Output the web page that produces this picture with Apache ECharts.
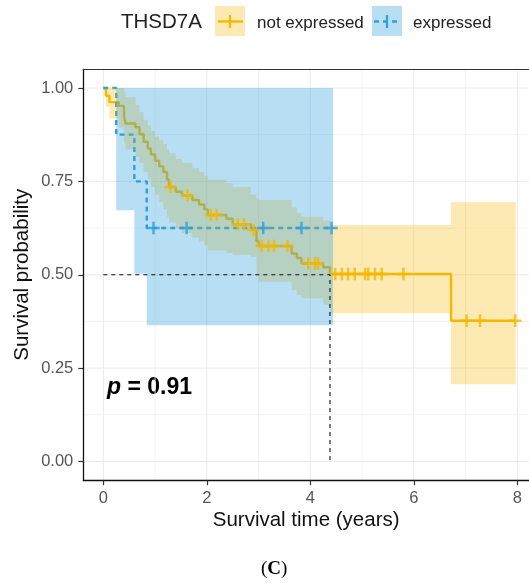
<!DOCTYPE html>
<html><head><meta charset="utf-8">
<script src="https://cdn.jsdelivr.net/npm/echarts@6/dist/echarts.min.js"></script>
<style>html,body{margin:0;padding:0;background:#fff}#c{width:529px;height:583px}</style>
</head><body><div id="c"></div>
<script>
// ---- tick values ----
const xTicks = [0, 2, 4, 6, 8];
const xMinor = [1, 3, 5, 7];
const yTicks = [0, 0.25, 0.5, 0.75, 1];
const yMinor = [0.125, 0.375, 0.625, 0.875];

// ---- group: not expressed (step points, last = end of follow-up) ----
const neTime  = [0,0.05,0.12,0.30,0.40,0.43,0.62,0.70,0.78,0.86,0.92,1.00,1.08,1.16,1.23,1.27,1.40,1.52,1.72,1.85,1.95,2.02,2.38,2.50,2.85,2.96,3.00,3.64,3.74,3.83,4.25,4.38,6.72,7.97];
const neSurv  = [1,0.979,0.962,0.952,0.925,0.905,0.895,0.876,0.856,0.838,0.822,0.805,0.790,0.775,0.755,0.735,0.722,0.712,0.700,0.688,0.675,0.660,0.650,0.635,0.620,0.590,0.577,0.557,0.545,0.530,0.520,0.502,0.377,0.377];
const neLower = [1,0.950,0.918,0.895,0.852,0.835,0.815,0.800,0.775,0.755,0.735,0.715,0.695,0.675,0.655,0.640,0.625,0.612,0.600,0.590,0.578,0.565,0.558,0.553,0.548,0.500,0.481,0.459,0.446,0.437,0.420,0.397,0.207,0.207];
const neUpper = [1,1,1,1,0.990,0.975,0.955,0.935,0.915,0.900,0.885,0.870,0.860,0.850,0.835,0.825,0.810,0.800,0.785,0.775,0.765,0.755,0.745,0.735,0.715,0.705,0.700,0.680,0.665,0.655,0.645,0.633,0.694,0.694];
const neCensor = [1.30,1.63,2.08,2.19,2.60,2.72,2.90,3.06,3.19,3.30,3.56,3.96,4.09,4.15,4.48,4.61,4.73,4.86,5.06,5.12,5.25,5.38,5.80,7.02,7.28,7.96];

// ---- group: expressed ----
const exTime  = [0,0.25,0.60,0.84,4.44];
const exSurv  = [1,0.875,0.75,0.625,0.625];
const exLower = [1,0.673,0.503,0.365,0.365];
const exUpper = [1,1,1,1,1];
const exCensor = [0.97,1.61,3.09,3.83,4.41];

const medianTime = 4.38, medianSurv = 0.5;
const pValue = '0.91';

const ORANGE = '#F4B800', BLUE = '#2E9FDF';
const ORANGE_FILL = 'rgba(244,184,0,0.30)', BLUE_FILL = 'rgba(46,159,223,0.34)';
const X_MIN = -0.3865, X_MAX = 8.226, Y_MIN = -0.05, Y_MAX = 1.05;

function stepAt(times, surv, t){
  let v = surv[0];
  for (let i = 0; i < times.length; i++) { if (times[i] <= t) v = surv[i]; }
  return v;
}
const plusPath = 'path://M4,0h2v4h4v2h-4v4h-2v-4h-4v-2h4z';

function bandRender(times, lo, hi, fill){
  return function(params, api){
    if (params.dataIndex !== 0) return null;
    const pts = [];
    for (let i = 0; i < times.length - 1; i++) {
      pts.push(api.coord([times[i], hi[i]]));
      pts.push(api.coord([times[i+1], hi[i]]));
    }
    for (let i = times.length - 2; i >= 0; i--) {
      pts.push(api.coord([times[i+1], lo[i]]));
      pts.push(api.coord([times[i], lo[i]]));
    }
    return {type:'polygon', shape:{points:pts}, style:{fill:fill, stroke:null}};
  };
}
function gridRender(dir, width, color){
  return function(params, api){
    const v = api.value(0);
    const a = dir === 'x' ? api.coord([v, Y_MIN]) : api.coord([X_MIN, v]);
    const b = dir === 'x' ? api.coord([v, Y_MAX]) : api.coord([X_MAX, v]);
    return {type:'line', shape:{x1:a[0], y1:a[1], x2:b[0], y2:b[1]}, style:{stroke:color, lineWidth:width}};
  };
}

const chart = echarts.init(document.getElementById('c'));
chart.setOption({
  animation: false,
  backgroundColor: '#fff',
  grid: {left: 83.3, top: 69.3, right: 0, height: 410.9, show: false},
  xAxis: [{
    type: 'value', min: X_MIN, max: X_MAX,
    name: 'Survival time (years)', nameLocation: 'middle', nameGap: 30, nameMoveOverlap: false,
    nameTextStyle: {fontFamily: 'Liberation Sans', fontSize: 20.5, color: '#111'},
    axisLine: {show: true, onZero: false, lineStyle: {color: '#111', width: 1.3}},
    axisTick: {show: true, length: 5, customValues: xTicks, lineStyle: {color: '#333', width: 1.2}},
    axisLabel: {customValues: xTicks, margin: 10, fontFamily: 'Liberation Sans', fontSize: 16.5, color: '#555', formatter: v => String(v)},
    splitLine: {show: false}
  }, {
    type: 'value', min: X_MIN, max: X_MAX, position: 'top',
    axisLine: {show: true, onZero: false, lineStyle: {color: '#333', width: 1}},
    axisTick: {show: false}, axisLabel: {show: false}, splitLine: {show: false}
  }],
  yAxis: {
    type: 'value', min: Y_MIN, max: Y_MAX,
    name: 'Survival probability', nameLocation: 'middle', nameGap: 50, nameRotate: 90, nameMoveOverlap: false,
    nameTextStyle: {fontFamily: 'Liberation Sans', fontSize: 20.5, color: '#111'},
    axisLine: {show: true, onZero: false, lineStyle: {color: '#111', width: 1.3}},
    axisTick: {show: true, length: 5, customValues: yTicks, lineStyle: {color: '#333', width: 1.2}},
    axisLabel: {customValues: yTicks, margin: 10, fontFamily: 'Liberation Sans', fontSize: 16.5, color: '#555', formatter: v => v.toFixed(2)},
    splitLine: {show: false}
  },
  series: [
    {type:'custom', z:0, silent:true, data: xTicks.map(v=>[v]), renderItem: gridRender('x', 1, '#EAEAEA'), encode:{x:0}},
    {type:'custom', z:0, silent:true, data: xMinor.map(v=>[v]), renderItem: gridRender('x', 0.8, '#EFEFEF'), encode:{x:0}},
    {type:'custom', z:0, silent:true, data: yTicks.map(v=>[v]), renderItem: gridRender('y', 1, '#EAEAEA'), encode:{y:0}},
    {type:'custom', z:0, silent:true, data: yMinor.map(v=>[v]), renderItem: gridRender('y', 0.8, '#EFEFEF'), encode:{y:0}},
    {type:'line', z:2, step:'end', symbol:'none', silent:true, data: neTime.map((t,i)=>[t, neSurv[i]]), lineStyle:{color:ORANGE, width:2.4}},
    {type:'line', z:2, step:'end', symbol:'none', silent:true, data: exTime.map((t,i)=>[t, exSurv[i]]), lineStyle:{color:BLUE, width:2.4, type:[5,4]}},
    {type:'custom', z:3, silent:true, data: neTime.map((t,i)=>[t, neLower[i], neUpper[i]]), encode:{x:0, y:[1,2]}, renderItem: bandRender(neTime, neLower, neUpper, ORANGE_FILL)},
    {type:'custom', z:4, silent:true, data: exTime.map((t,i)=>[t, exLower[i], exUpper[i]]), encode:{x:0, y:[1,2]}, renderItem: bandRender(exTime, exLower, exUpper, BLUE_FILL)},
    {type:'scatter', z:5, silent:true, symbol: plusPath, symbolSize: 12.5, itemStyle:{color:ORANGE}, data: neCensor.map(t=>[t, stepAt(neTime, neSurv, t)])},
    {type:'scatter', z:5, silent:true, symbol: plusPath, symbolSize: 12.5, itemStyle:{color:BLUE}, data: exCensor.map(t=>[t, stepAt(exTime, exSurv, t)])},
    {type:'line', z:6, symbol:'none', silent:true, data: [[0, medianSurv],[medianTime, medianSurv],[medianTime, 0]], lineStyle:{color:'#111', width:1.1, type:[4,4]}}
  ],
  graphic: [
    {type:'text', left:121, top:12, style:{text:'THSD7A', font:'20.5px "Liberation Sans"', fill:'#222'}},
    {type:'rect', shape:{x:215, y:6, width:30, height:30}, style:{fill:'rgba(244,184,0,0.30)'}},
    {type:'line', shape:{x1:218, y1:21.5, x2:243, y2:21.5}, style:{stroke:ORANGE, lineWidth:2.4}},
    {type:'line', shape:{x1:230, y1:15, x2:230, y2:28}, style:{stroke:ORANGE, lineWidth:2.2}},
    {type:'text', left:257, top:15, style:{text:'not expressed', font:'17px "Liberation Sans"', fill:'#222'}},
    {type:'rect', shape:{x:372, y:6, width:30, height:30}, style:{fill:'rgba(46,159,223,0.34)'}},
    {type:'line', shape:{x1:374, y1:21.5, x2:401, y2:21.5}, style:{stroke:BLUE, lineWidth:2.4, lineDash:[5,4]}},
    {type:'line', shape:{x1:387, y1:15, x2:387, y2:28}, style:{stroke:BLUE, lineWidth:2.2}},
    {type:'text', left:413, top:15, style:{text:'expressed', font:'17px "Liberation Sans"', fill:'#222'}},
    {type:'text', left:107, top:376, style:{
      rich:{i:{fontFamily:'Liberation Sans', fontSize:23, fontWeight:'bold', fontStyle:'italic', fill:'#000'}, b:{fontFamily:'Liberation Sans', fontSize:23, fontWeight:'bold', fill:'#000'}},
      text:'{i|p}{b| = ' + pValue + '}'}},
    {type:'text', left:261, top:560, style:{
      rich:{n:{fontFamily:'Liberation Serif', fontSize:19, fill:'#000'}, c:{fontFamily:'Liberation Serif', fontSize:19, fontWeight:'bold', fill:'#000'}},
      text:'{n|(}{c|C}{n|)}'}}
  ]
});
</script>
</body></html>
